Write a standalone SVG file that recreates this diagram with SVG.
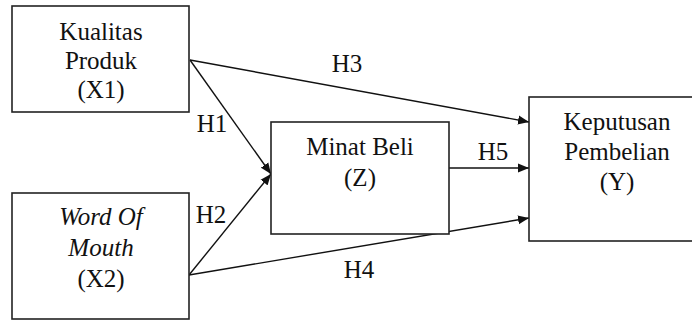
<svg xmlns="http://www.w3.org/2000/svg" width="692" height="320" viewBox="0 0 692 320">
<style>
.box{fill:#fff;stroke:#222;stroke-width:1.6}
.t{font-family:"Liberation Serif","Times New Roman",serif;font-size:25px;fill:#111;text-anchor:middle}
.i{font-style:italic}
.c{stroke:#111;stroke-width:1.4;fill:none}
</style>
<defs>
<marker id="ah" markerUnits="userSpaceOnUse" markerWidth="12" markerHeight="10" refX="11" refY="5" orient="auto">
<path d="M0,0.5 L11,5 L0,9.5 Z" fill="#111"/>
</marker>
</defs>
<rect width="692" height="320" fill="#fff"/>
<g id="connectors">
<line class="c" x1="190" y1="60" x2="529" y2="122" marker-end="url(#ah)"/>
<line class="c" x1="190" y1="60" x2="271" y2="174" marker-end="url(#ah)"/>
<line class="c" x1="189" y1="275" x2="271" y2="174" marker-end="url(#ah)"/>
<line class="c" x1="189" y1="275" x2="529" y2="218" marker-end="url(#ah)"/>
<line class="c" x1="449" y1="168" x2="529" y2="168" marker-end="url(#ah)"/>
<text class="t" x="347" y="72">H3</text>
<text class="t" x="212" y="132">H1</text>
<text class="t" x="211" y="223">H2</text>
<text class="t" x="493" y="160">H5</text>
<text class="t" x="359" y="278">H4</text>
</g>
<g id="x1">
<rect class="box" x="12" y="6" width="177" height="106"/>
<text class="t" x="101" y="40">Kualitas</text>
<text class="t" x="101" y="69">Produk</text>
<text class="t" x="101" y="98">(X1)</text>
</g>
<g id="x2">
<rect class="box" x="12" y="193" width="177" height="126"/>
<text class="t i" x="101" y="225">Word Of</text>
<text class="t i" x="101" y="256">Mouth</text>
<text class="t" x="101" y="287">(X2)</text>
</g>
<g id="z">
<rect class="box" x="271" y="122" width="178" height="112"/>
<text class="t" x="360" y="155">Minat Beli</text>
<text class="t" x="360" y="186">(Z)</text>
</g>
<g id="y">
<rect class="box" x="529" y="97" width="176" height="144"/>
<text class="t" x="617" y="130">Keputusan</text>
<text class="t" x="617" y="160">Pembelian</text>
<text class="t" x="617" y="190">(Y)</text>
</g>
</svg>
